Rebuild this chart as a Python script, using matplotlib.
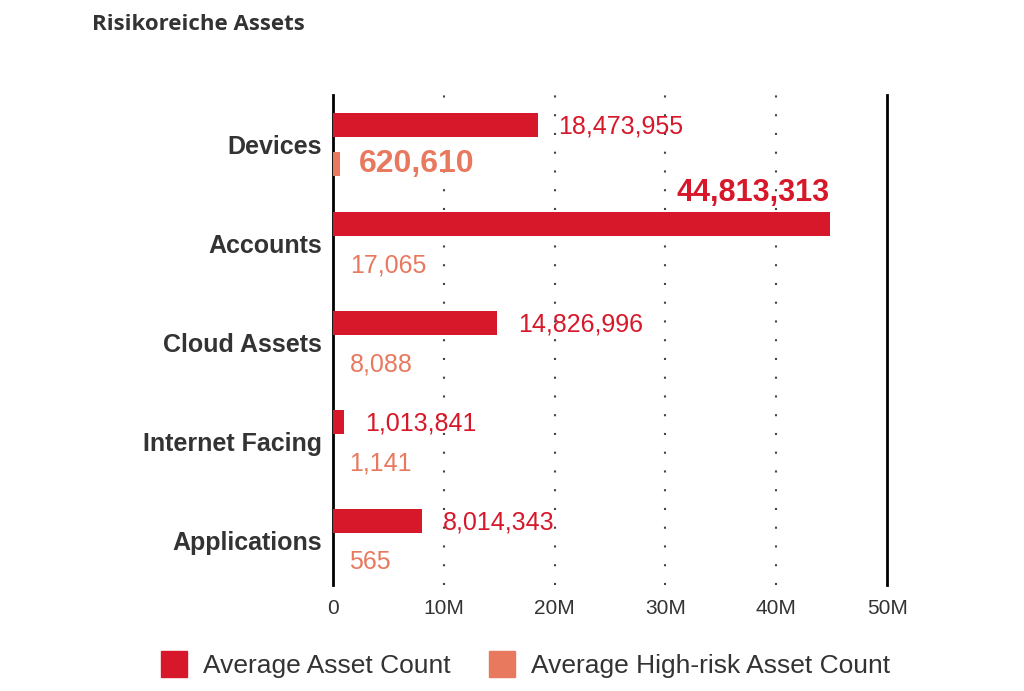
import matplotlib.pyplot as plt
from matplotlib.patches import Patch

categories = ["Devices", "Accounts", "Cloud Assets", "Internet Facing", "Applications"]
asset_count = [18473955, 44813313, 14826996, 1013841, 8014343]
high_risk_count = [620610, 17065, 8088, 1141, 565]
tick_values = [0, 10e6, 20e6, 30e6, 40e6, 50e6]
tick_labels = ["0", "10M", "20M", "30M", "40M", "50M"]
bold_count = [1]      # Accounts
bold_high_risk = [0]  # Devices

red = "#D7182A"
orange = "#E8795F"
dark = "#333333"
num_font = "Liberation Sans"

fig = plt.figure(figsize=(10.24, 6.91), dpi=100)
ax = fig.add_axes([0.325, 0.1534, 0.5415, 0.7091])

pos = list(range(len(categories)))
h = 0.24
ax.barh([p - 0.2 for p in pos], asset_count, height=h, color=red, zorder=3)
ax.barh([p + 0.2 for p in pos], high_risk_count, height=h, color=orange, zorder=3)

for i, (a, r) in enumerate(zip(asset_count, high_risk_count)):
    if i in bold_count:
        ax.annotate(f"{a:,}", (a, i - 0.2 - h / 2), xytext=(0, 3), textcoords="offset points",
                    ha="right", va="bottom", color=red, fontsize=22, fontweight="bold",
                    family=num_font)
    else:
        ax.annotate(f"{a:,}", (a, i - 0.2), xytext=(15, -1.5), textcoords="offset points",
                    ha="left", va="center", color=red, fontsize=18, family=num_font)
    if i in bold_high_risk:
        ax.annotate(f"{r:,}", (r, i + 0.2), xytext=(14, 0), textcoords="offset points",
                    ha="left", va="center", color=orange, fontsize=23, fontweight="bold",
                    family=num_font)
    else:
        ax.annotate(f"{r:,}", (r, i + 0.2), xytext=(12, -1.5), textcoords="offset points",
                    ha="left", va="center", color=orange, fontsize=18, family=num_font)

ax.set_ylim(4.45, -0.5)
ax.set_xlim(0, 50e6)
ax.set_yticks(pos)
ax.set_yticklabels(categories, fontsize=18, fontweight="bold", color=dark, family=num_font)
ax.set_xticks(tick_values)
ax.set_xticklabels(tick_labels, fontsize=15, color=dark, family=num_font)
ax.tick_params(length=0)
ax.tick_params(axis="x", pad=10)
ax.tick_params(axis="y", pad=8)

for v in tick_values[1:-1]:
    ax.axvline(v, color="#444444", linestyle=(0, (1, 8)), linewidth=1.5, zorder=1)

for s in ["top", "bottom"]:
    ax.spines[s].set_visible(False)
for s in ["left", "right"]:
    ax.spines[s].set_color("black")
    ax.spines[s].set_linewidth(2)

fig.text(0.09, 0.965, "Risikoreiche Assets", fontsize=16, fontweight="bold",
         color=dark, family="Open Sans", va="center")

handles = [Patch(color=red, label="Average Asset Count"),
           Patch(color=orange, label="Average High-risk Asset Count")]
fig.legend(handles=handles, loc="center", bbox_to_anchor=(0.513, 0.038), ncol=2,
           frameon=False, handlelength=1.0, handleheight=1.1, handletextpad=0.6,
           columnspacing=1.45, prop={"family": num_font, "size": 19},
           labelcolor=dark)

fig.savefig("out.png", dpi=100, facecolor="white")
